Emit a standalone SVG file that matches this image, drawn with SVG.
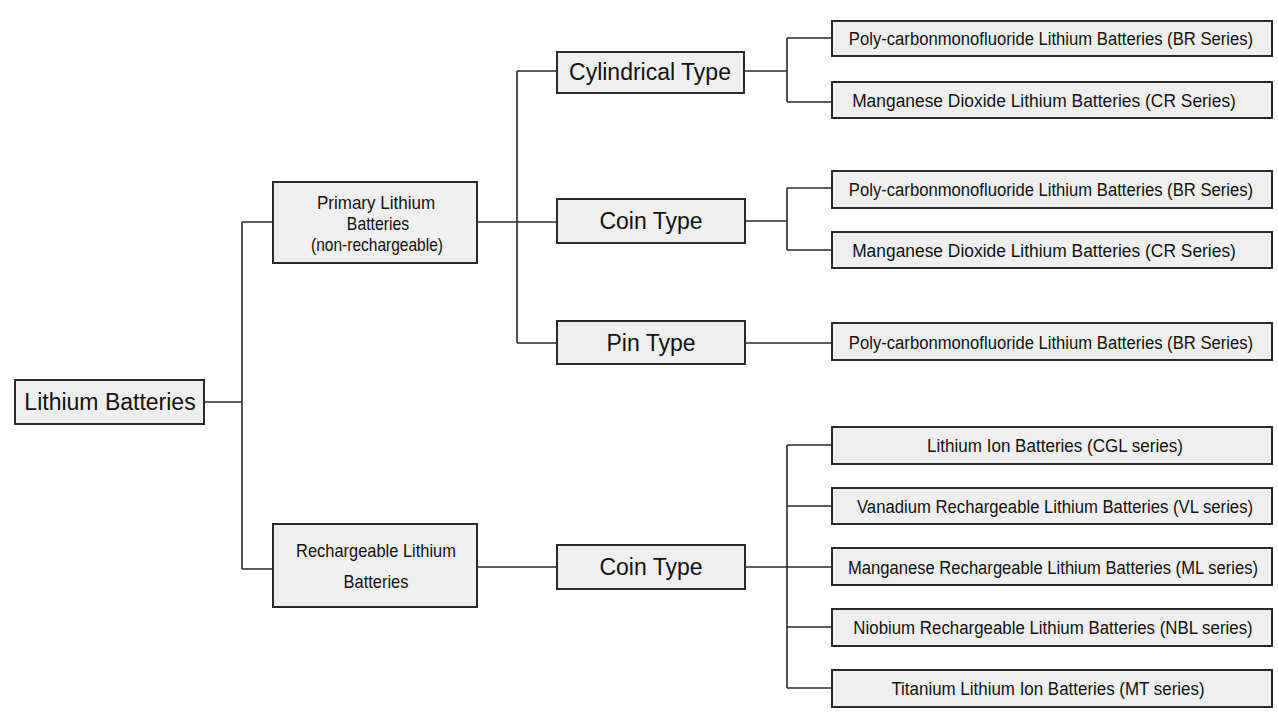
<svg xmlns="http://www.w3.org/2000/svg" width="1278" height="719" viewBox="0 0 1278 719">
<style>
.box{fill:#efefef;stroke:#2a2a2a;stroke-width:2}
.big{font-family:"Liberation Sans",Arial,sans-serif;font-size:23px;fill:#111;text-anchor:middle}
.mid{font-family:"Liberation Sans",Arial,sans-serif;font-size:18px;fill:#111;text-anchor:middle}
.leaf{font-family:"Liberation Sans",Arial,sans-serif;font-size:19px;fill:#111;text-anchor:middle}
.con{fill:none;stroke:#2a2a2a;stroke-width:1.6}
</style>
<rect width="1278" height="719" fill="#fff"/>
<g id="connectors">
<path class="con" d="M204,402 H242 M242,222 V569 M242,222 H273 M242,569 H273"/>
<path class="con" d="M477,222 H557 M517,71 V343 M517,71 H557 M517,343 H557"/>
<path class="con" d="M477,567 H557"/>
<path class="con" d="M744,71 H787 M787,38 V102 M787,38 H832 M787,102 H832"/>
<path class="con" d="M745,221 H787 M787,188 V250 M787,188 H832 M787,250 H832"/>
<path class="con" d="M745,343 H832"/>
<path class="con" d="M745,567 H787 M787,445 V688 M787,445 H832 M787,506 H832 M787,567 H832 M787,627 H832 M787,688 H832"/>
</g>
<g id="root"><rect class="box" x="15" y="380" width="189" height="44"/><text class="big" x="110" y="410">Lithium Batteries</text></g>
<g id="primary"><rect class="box" x="273" y="182" width="204" height="81"/>
<text class="mid" transform="translate(376,209) scale(0.82,1)" textLength="144" lengthAdjust="spacingAndGlyphs">Primary  Lithium</text>
<text class="mid" transform="translate(378,230) scale(0.82,1)" textLength="76" lengthAdjust="spacingAndGlyphs">Batteries</text>
<text class="mid" transform="translate(377,251) scale(0.82,1)" textLength="161" lengthAdjust="spacingAndGlyphs">(non-rechargeable)</text></g>
<g id="rechargeable"><rect class="box" x="273" y="524" width="204" height="83"/>
<text class="mid" transform="translate(376,557) scale(0.82,1)" textLength="195" lengthAdjust="spacingAndGlyphs">Rechargeable Lithium</text>
<text class="mid" transform="translate(376,588) scale(0.82,1)" textLength="79" lengthAdjust="spacingAndGlyphs">Batteries</text></g>
<g id="cylindrical"><rect class="box" x="557" y="52" width="187" height="41"/><text class="big" x="650" y="80">Cylindrical Type</text></g>
<g id="coin1"><rect class="box" x="557" y="199" width="188" height="44"/><text class="big" x="651" y="229">Coin Type</text></g>
<g id="pin"><rect class="box" x="557" y="321" width="188" height="43"/><text class="big" x="651" y="351">Pin Type</text></g>
<g id="coin2"><rect class="box" x="557" y="545" width="188" height="44"/><text class="big" x="651" y="575">Coin  Type</text></g>
<g id="leaf1"><rect class="box" x="832" y="21" width="440" height="35"/><text class="leaf" transform="translate(1051,45) scale(0.82,1)" textLength="493" lengthAdjust="spacingAndGlyphs">Poly-carbonmonofluoride Lithium Batteries (BR Series)</text></g>
<g id="leaf2"><rect class="box" x="832" y="82" width="440" height="36"/><text class="leaf" transform="translate(1044,107) scale(0.82,1)" textLength="468" lengthAdjust="spacingAndGlyphs">Manganese Dioxide Lithium Batteries (CR Series)</text></g>
<g id="leaf3"><rect class="box" x="832" y="171" width="440" height="37"/><text class="leaf" transform="translate(1051,196) scale(0.82,1)" textLength="493" lengthAdjust="spacingAndGlyphs">Poly-carbonmonofluoride Lithium Batteries (BR Series)</text></g>
<g id="leaf4"><rect class="box" x="832" y="232" width="440" height="36"/><text class="leaf" transform="translate(1044,257) scale(0.82,1)" textLength="468" lengthAdjust="spacingAndGlyphs">Manganese Dioxide Lithium Batteries (CR Series)</text></g>
<g id="leaf5"><rect class="box" x="832" y="323" width="440" height="37"/><text class="leaf" transform="translate(1051,349) scale(0.82,1)" textLength="493" lengthAdjust="spacingAndGlyphs">Poly-carbonmonofluoride Lithium Batteries (BR Series)</text></g>
<g id="leaf6"><rect class="box" x="832" y="427" width="440" height="37"/><text class="leaf" transform="translate(1055,452) scale(0.82,1)" textLength="312" lengthAdjust="spacingAndGlyphs">Lithium  Ion  Batteries (CGL series)</text></g>
<g id="leaf7"><rect class="box" x="832" y="488" width="440" height="36"/><text class="leaf" transform="translate(1055,513) scale(0.82,1)" textLength="483" lengthAdjust="spacingAndGlyphs">Vanadium  Rechargeable  Lithium  Batteries (VL series)</text></g>
<g id="leaf8"><rect class="box" x="832" y="548" width="440" height="37"/><text class="leaf" transform="translate(1053,574) scale(0.82,1)" textLength="500" lengthAdjust="spacingAndGlyphs">Manganese  Rechargeable  Lithium  Batteries (ML series)</text></g>
<g id="leaf9"><rect class="box" x="832" y="609" width="440" height="37"/><text class="leaf" transform="translate(1053,634) scale(0.82,1)" textLength="487" lengthAdjust="spacingAndGlyphs">Niobium  Rechargeable  Lithium  Batteries  (NBL series)</text></g>
<g id="leaf10"><rect class="box" x="832" y="670" width="440" height="37"/><text class="leaf" transform="translate(1048,695) scale(0.82,1)" textLength="382" lengthAdjust="spacingAndGlyphs">Titanium  Lithium Ion  Batteries (MT series)</text></g>
</svg>
